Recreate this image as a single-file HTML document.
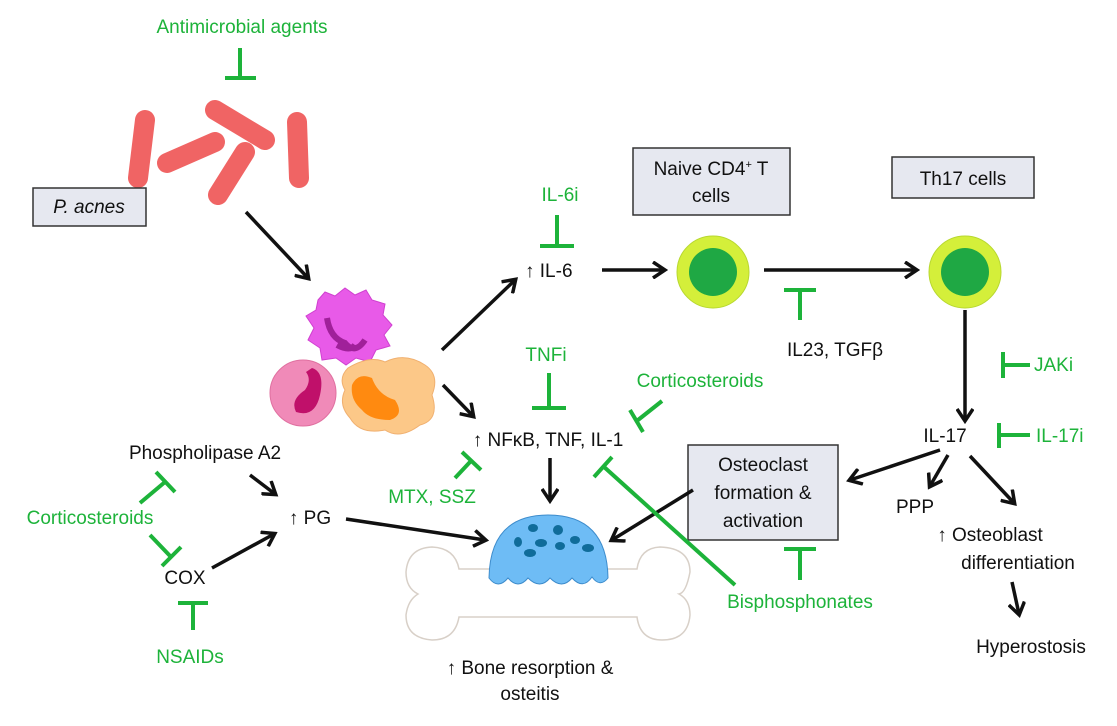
<!DOCTYPE html>
<html><head><meta charset="utf-8"><style>
html,body{margin:0;padding:0;background:#fff;}
svg{display:block;}
text{font-family:"Liberation Sans",sans-serif;font-size:19px;}
.g{fill:#1db33a;}
.k{fill:#111;}
.gl{stroke:#1db33a;stroke-width:4;fill:none;}
.al{stroke:#111;stroke-width:3.5;fill:none;marker-end:url(#ah);}
.box{fill:#e6e8f0;stroke:#333;stroke-width:1.5;}
</style></head><body>
<svg width="1117" height="726" viewBox="0 0 1117 726" xmlns="http://www.w3.org/2000/svg">
<defs>
<marker id="ah" markerWidth="18" markerHeight="18" refX="13" refY="9" orient="auto" markerUnits="userSpaceOnUse" viewBox="0 0 18 18">
<path d="M2,1 L14,9 L2,17" fill="none" stroke="#111" stroke-width="3.5"/>
</marker>
</defs>
<rect width="1117" height="726" fill="#fff"/>

<text x="242" y="33" class="g" text-anchor="middle">Antimicrobial agents</text>
<path class="gl" d="M240,48 V78 M225,78 H256"/>

<g stroke-width="20" stroke-linecap="round" stroke="#f06464">
<line x1="145" y1="120" x2="138" y2="178"/>
<line x1="215" y1="110" x2="265" y2="140"/>
<line x1="167" y1="163" x2="215" y2="142"/>
<line x1="218" y1="195" x2="245" y2="152"/>
<line x1="297" y1="122" x2="299" y2="178"/>
</g>
<rect x="33" y="188" width="113" height="38" class="box"/>
<text x="89" y="213" class="k" text-anchor="middle" font-style="italic">P. acnes</text>
<line x1="246" y1="212" x2="308" y2="278" class="al"/>

<path d="M318,300 L325,292 L335,296 L345,288 L355,295 L366,290 L372,300 L385,304 L383,315 L392,325 L384,335 L390,346 L376,350 L370,362 L356,358 L346,365 L336,358 L322,360 L320,348 L308,340 L314,328 L306,316 L316,310Z" fill="#e85ae8" stroke="#d040d0"/>
<path d="M327,318 Q330,338 345,343 Q355,355 365,340 M337,345 Q350,352 355,345" stroke="#a0209a" stroke-width="6" fill="none"/>
<circle cx="303" cy="393" r="33" fill="#f08ab8" stroke="#e070a0"/>
<path d="M312,368 Q325,372 320,395 Q315,418 296,412 Q290,400 305,390 Q312,380 306,372Z" fill="#c0106a"/>
<path d="M348,368 Q370,355 385,362 Q405,352 425,365 Q440,375 432,395 Q440,420 420,425 Q400,440 385,430 Q360,435 350,418 Q338,405 345,390 Q338,378 348,368Z" fill="#fcc888" stroke="#f0b070"/>
<path d="M352,385 Q358,372 372,378 Q378,395 395,400 Q405,415 390,420 Q370,420 362,410 Q350,400 352,385Z" fill="#ff8a10"/>

<line x1="442" y1="350" x2="515" y2="280" class="al"/>
<line x1="443" y1="385" x2="473" y2="416" class="al"/>

<text x="560" y="201" class="g" text-anchor="middle">IL-6i</text>
<path class="gl" d="M557,215 V246 M540,246 H574"/>
<text x="525" y="277" class="k">↑ IL-6</text>
<line x1="602" y1="270" x2="664" y2="270" class="al"/>

<rect x="633" y="148" width="157" height="67" class="box"/>
<text x="711" y="175" class="k" text-anchor="middle">Naive CD4<tspan font-size="11" dy="-7">+</tspan><tspan dy="7"> T</tspan></text>
<text x="711" y="202" class="k" text-anchor="middle">cells</text>
<circle cx="713" cy="272" r="36" fill="#d4ef3a" stroke="#b8d830"/>
<circle cx="713" cy="272" r="24" fill="#1fa844"/>
<line x1="764" y1="270" x2="916" y2="270" class="al"/>
<path class="gl" d="M784,290 H816 M800,290 V320"/>
<text x="835" y="356" class="k" text-anchor="middle">IL23, TGFβ</text>

<rect x="892" y="157" width="142" height="41" class="box"/>
<text x="963" y="185" class="k" text-anchor="middle">Th17 cells</text>
<circle cx="965" cy="272" r="36" fill="#d4ef3a" stroke="#b8d830"/>
<circle cx="965" cy="272" r="24" fill="#1fa844"/>
<line x1="965" y1="310" x2="965" y2="420" class="al"/>
<path class="gl" d="M1003,352 V378 M1003,365 H1030"/>
<text x="1034" y="371" class="g">JAKi</text>
<path class="gl" d="M999,423 V448 M999,435 H1030"/>
<text x="1036" y="442" class="g">IL-17i</text>
<text x="945" y="442" class="k" text-anchor="middle">IL-17</text>
<line x1="940" y1="450" x2="850" y2="480" class="al"/>
<line x1="948" y1="455" x2="930" y2="486" class="al"/>
<line x1="970" y1="456" x2="1014" y2="503" class="al"/>
<text x="915" y="513" class="k" text-anchor="middle">PPP</text>
<text x="990" y="541" class="k" text-anchor="middle">↑ Osteoblast</text>
<text x="1018" y="569" class="k" text-anchor="middle">differentiation</text>
<line x1="1012" y1="582" x2="1019" y2="614" class="al"/>
<text x="1031" y="653" class="k" text-anchor="middle">Hyperostosis</text>

<rect x="688" y="445" width="150" height="95" class="box"/>
<text x="763" y="471" class="k" text-anchor="middle">Osteoclast</text>
<text x="763" y="499" class="k" text-anchor="middle">formation &amp;</text>
<text x="763" y="527" class="k" text-anchor="middle">activation</text>
<line x1="693" y1="490" x2="612" y2="540" class="al"/>
<path class="gl" d="M784,549 H816 M800,549 V580"/>
<text x="800" y="608" class="g" text-anchor="middle">Bisphosphonates</text>
<path class="gl" d="M603,466 L735,585 M594,477 L612,457"/>

<text x="546" y="361" class="g" text-anchor="middle">TNFi</text>
<path class="gl" d="M549,373 V408 M532,408 H566"/>
<text x="700" y="387" class="g" text-anchor="middle">Corticosteroids</text>
<path class="gl" d="M662,401 L638,420 M630,410 L643,432"/>
<text x="548" y="446" class="k" text-anchor="middle">↑ NFκB, TNF, IL-1</text>
<path class="gl" d="M455,478 L470,462 M462,452 L481,470"/>
<text x="432" y="503" class="g" text-anchor="middle">MTX, SSZ</text>
<line x1="550" y1="458" x2="550" y2="500" class="al"/>

<path d="M459,569 H637 Q640,548 660,547 Q690,548 690,572 Q686,593 679,594 Q690,600 690,615 Q688,640 662,640 Q640,640 637,617 H459 Q455,640 432,640 Q406,638 406,615 Q408,600 418,594 Q406,588 406,572 Q408,548 432,547 Q455,548 459,569Z" fill="#fff" stroke="#d8d0c8" stroke-width="1.5"/>
<path d="M489,578 Q490,515 548,515 Q607,515 608,578 Q600,588 592,577 Q583,590 572,578 Q562,590 550,578 Q540,590 528,578 Q518,590 508,578 Q498,590 489,578Z" fill="#6ebcf5" stroke="#3d8ccc"/>
<g fill="#106c9a">
<ellipse cx="533" cy="528" rx="5" ry="4"/><ellipse cx="558" cy="530" rx="5" ry="5"/>
<ellipse cx="518" cy="542" rx="4" ry="5"/><ellipse cx="541" cy="543" rx="6" ry="4"/>
<ellipse cx="560" cy="546" rx="5" ry="4"/><ellipse cx="575" cy="540" rx="5" ry="4"/>
<ellipse cx="530" cy="553" rx="6" ry="4"/><ellipse cx="588" cy="548" rx="6" ry="4"/>
</g>
<text x="530" y="674" class="k" text-anchor="middle">↑ Bone resorption &amp;</text>
<text x="530" y="700" class="k" text-anchor="middle">osteitis</text>

<text x="205" y="459" class="k" text-anchor="middle">Phospholipase A2</text>
<line x1="250" y1="475" x2="275" y2="494" class="al"/>
<text x="310" y="524" class="k" text-anchor="middle">↑ PG</text>
<line x1="346" y1="519" x2="485" y2="540" class="al"/>
<text x="185" y="584" class="k" text-anchor="middle">COX</text>
<line x1="212" y1="568" x2="274" y2="534" class="al"/>
<text x="90" y="524" class="g" text-anchor="middle">Corticosteroids</text>
<path class="gl" d="M140,503 L165,482 M156,472 L175,492"/>
<path class="gl" d="M150,535 L172,558 M162,566 L181,547"/>
<path class="gl" d="M178,603 H208 M193,603 V630"/>
<text x="190" y="663" class="g" text-anchor="middle">NSAIDs</text>
</svg>
</body></html>
